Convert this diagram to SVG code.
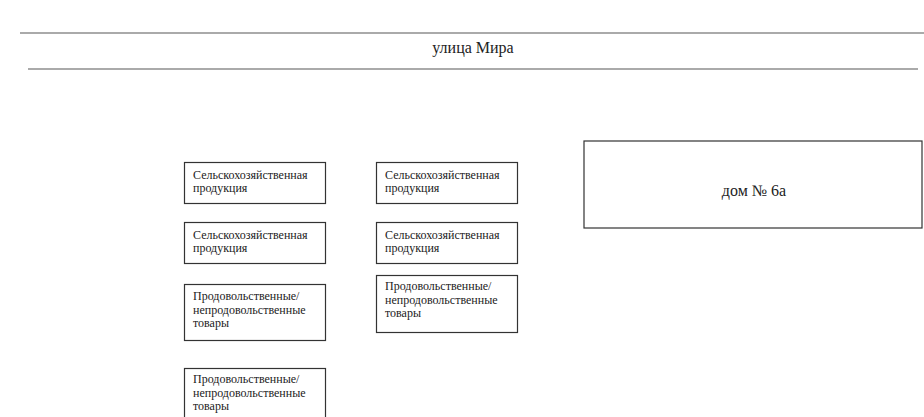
<svg xmlns="http://www.w3.org/2000/svg" width="924" height="417" viewBox="0 0 924 417">
<style>
.box{fill:#fff;stroke:#333;stroke-width:1.2}
.t{font-family:"Liberation Serif","Times New Roman",serif;font-size:12px;fill:#222}
.street{stroke:#aaa;stroke-width:2}
.st{font-family:"Liberation Serif","Times New Roman",serif;font-size:16px;fill:#222}
</style>
<rect width="924" height="417" fill="#fff"/>
<g id="street">
<line class="street" x1="20" y1="33" x2="924" y2="33"/>
<line class="street" x1="28" y1="69" x2="918" y2="69"/>
<text class="st" x="473" y="53" text-anchor="middle">улица Мира</text>
</g>
<g id="house">
<rect class="box" x="584" y="141" width="338" height="87"/>
<text class="st" x="754" y="196" text-anchor="middle">дом № 6а</text>
</g>
<g id="a1">
<rect class="box" x="184.5" y="162.5" width="141" height="41"/>
<text class="t" x="193" y="179">Сельскохозяйственная</text>
<text class="t" x="193" y="192">продукция</text>
</g>
<g id="b1">
<rect class="box" x="376.5" y="162.5" width="141" height="41"/>
<text class="t" x="385" y="179">Сельскохозяйственная</text>
<text class="t" x="385" y="192">продукция</text>
</g>
<g id="a2">
<rect class="box" x="184.5" y="222.5" width="141" height="41"/>
<text class="t" x="193" y="239">Сельскохозяйственная</text>
<text class="t" x="193" y="252">продукция</text>
</g>
<g id="b2">
<rect class="box" x="376.5" y="222.5" width="141" height="41"/>
<text class="t" x="385" y="239">Сельскохозяйственная</text>
<text class="t" x="385" y="252">продукция</text>
</g>
<g id="a3">
<rect class="box" x="184.5" y="284.5" width="141" height="56"/>
<text class="t" x="193" y="300">Продовольственные/</text>
<text class="t" x="193" y="314">непродовольственные</text>
<text class="t" x="193" y="327">товары</text>
</g>
<g id="b3">
<rect class="box" x="376.5" y="275.5" width="141" height="57"/>
<text class="t" x="385" y="290">Продовольственные/</text>
<text class="t" x="385" y="304">непродовольственные</text>
<text class="t" x="385" y="317">товары</text>
</g>
<g id="a4">
<rect class="box" x="184.5" y="368.5" width="141" height="60"/>
<text class="t" x="193" y="383">Продовольственные/</text>
<text class="t" x="193" y="397">непродовольственные</text>
<text class="t" x="193" y="410">товары</text>
</g>
<g id="connectors"></g>
</svg>
